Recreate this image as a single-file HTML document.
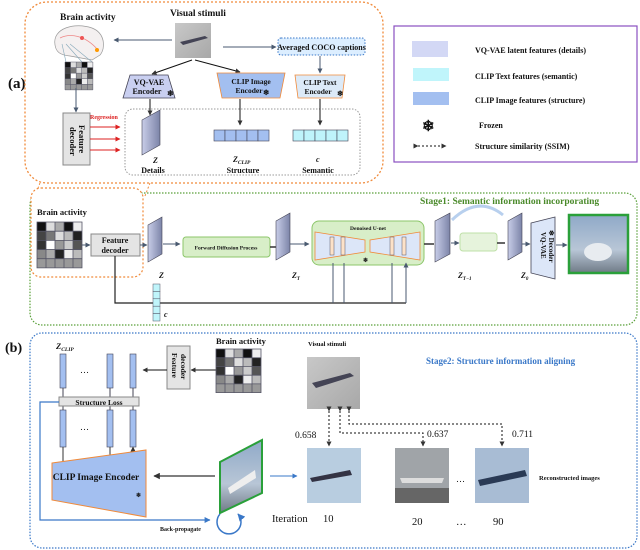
<!DOCTYPE html>
<html><head><meta charset="utf-8"><style>
body{margin:0;background:#fff}
svg{display:block}
text{font-family:"Liberation Serif",serif;font-weight:bold;fill:#111}
.n{font-weight:normal}
</style></head><body>
<svg width="640" height="550" viewBox="0 0 640 550" xmlns="http://www.w3.org/2000/svg">
<defs>
<marker id="a" viewBox="0 0 10 10" refX="9" refY="5" markerWidth="5" markerHeight="5" orient="auto"><path d="M0,0L10,5L0,10z" fill="#333"/></marker>
<marker id="ag" viewBox="0 0 10 10" refX="9" refY="5" markerWidth="5" markerHeight="5" orient="auto"><path d="M0,0L10,5L0,10z" fill="#4a5a70"/></marker>
<marker id="ar" viewBox="0 0 10 10" refX="9" refY="5" markerWidth="5" markerHeight="5" orient="auto"><path d="M0,0L10,5L0,10z" fill="#d22"/></marker>
<marker id="ab" viewBox="0 0 10 10" refX="9" refY="5" markerWidth="5" markerHeight="5" orient="auto"><path d="M0,0L10,5L0,10z" fill="#3a78c8"/></marker>
<linearGradient id="sky" x1="0" y1="0" x2="0" y2="1"><stop offset="0" stop-color="#8fa9c8"/><stop offset="0.6" stop-color="#b8c6d6"/><stop offset="1" stop-color="#6f7a86"/></linearGradient>
<linearGradient id="gray" x1="0" y1="0" x2="1" y2="1"><stop offset="0" stop-color="#c8c8c8"/><stop offset="1" stop-color="#a8a8a8"/></linearGradient>
<linearGradient id="plate" x1="0" y1="0" x2="1" y2="0"><stop offset="0" stop-color="#c8cde8"/><stop offset="1" stop-color="#7c84a8"/></linearGradient>
<g id="grid">
<rect x="0" y="0" width="9" height="9" fill="#111"/><rect x="9" y="0" width="9" height="9" fill="#ddd"/><rect x="18" y="0" width="9" height="9" fill="#aaa"/><rect x="27" y="0" width="9" height="9" fill="#111"/><rect x="36" y="0" width="9" height="9" fill="#eee"/>
<rect x="0" y="9" width="9" height="9" fill="#444"/><rect x="9" y="9" width="9" height="9" fill="#777"/><rect x="18" y="9" width="9" height="9" fill="#ddd"/><rect x="27" y="9" width="9" height="9" fill="#bbb"/><rect x="36" y="9" width="9" height="9" fill="#222"/>
<rect x="0" y="18" width="9" height="9" fill="#333"/><rect x="9" y="18" width="9" height="9" fill="#fff"/><rect x="18" y="18" width="9" height="9" fill="#999"/><rect x="27" y="18" width="9" height="9" fill="#ccc"/><rect x="36" y="18" width="9" height="9" fill="#555"/>
<rect x="0" y="27" width="9" height="9" fill="#888"/><rect x="9" y="27" width="9" height="9" fill="#aaa"/><rect x="18" y="27" width="9" height="9" fill="#222"/><rect x="27" y="27" width="9" height="9" fill="#eee"/><rect x="36" y="27" width="9" height="9" fill="#bbb"/>
<rect x="0" y="36" width="45" height="9" fill="#999"/>
<path d="M0,0H45V45H0zM0,9H45M0,18H45M0,27H45M0,36H45M9,0V45M18,0V45M27,0V45M36,0V45" fill="none" stroke="#556" stroke-width="0.8"/>
</g>
</defs>

<!-- ===== (a) ===== -->
<text x="8" y="88" font-size="15">(a)</text>
<rect x="25" y="2" width="358" height="181" rx="22" fill="none" stroke="#f08a3a" stroke-width="1.3" stroke-dasharray="2,2"/>
<text x="60" y="20" font-size="9.5">Brain activity</text>
<path d="M55,45 C52,28 75,22 92,28 C105,33 106,48 100,55 L92,60 L70,56 C60,55 56,52 55,45z" fill="#f4f0f0" stroke="#999" stroke-width="0.7"/>
<path d="M60,38 C70,33 85,35 98,50" stroke="#e88" fill="none" stroke-width="0.8"/>
<circle cx="82" cy="38" r="2" fill="#e55"/><circle cx="97" cy="50" r="2" fill="#f90"/>
<path d="M62,44 L66,62 M66,44 L82,62 M70,44 L92,62" stroke="#8ab" stroke-width="0.6"/>
<g transform="translate(65,62) scale(0.62)"><use href="#grid"/></g>
<text x="170" y="16" font-size="9.5">Visual stimuli</text>
<rect x="175" y="23" width="36" height="35" fill="url(#gray)"/>
<path d="M180,42 L205,36 L208,38 L183,45z" fill="#445"/>
<line x1="172" y1="40" x2="114" y2="40" stroke="#4a5a70" marker-end="url(#ag)"/>
<line x1="223" y1="47" x2="276" y2="47" stroke="#4a5a70" marker-end="url(#ag)"/>
<rect x="278" y="38" width="87" height="17" rx="3" fill="#dceeff" stroke="#3a78c8" stroke-dasharray="1.5,1.5"/>
<text x="321.5" y="50" font-size="8" text-anchor="middle">Averaged COCO captions</text>
<line x1="320" y1="56" x2="320" y2="73" stroke="#4a5a70" marker-end="url(#ag)"/>
<line x1="192" y1="60" x2="152" y2="74" stroke="#111" marker-end="url(#a)"/>
<line x1="195" y1="60" x2="240" y2="72" stroke="#111" marker-end="url(#a)"/>
<path d="M130,75 H168 L175,98 H123z" fill="#c9cff0" stroke="#445" stroke-width="0.8"/>
<text x="149" y="85" font-size="8" text-anchor="middle">VQ-VAE</text><text x="147" y="94" font-size="8" text-anchor="middle">Encoder</text><text x="167" y="96" font-size="8">❄</text>
<path d="M217,73 H285 L280,98 H222z" fill="#a3bff0" stroke="#f08a3a" stroke-width="0.8"/>
<text x="251" y="84" font-size="7.5" text-anchor="middle">CLIP Image</text><text x="249" y="93" font-size="7.5" text-anchor="middle">Encoder</text><text x="263" y="95" font-size="7.5">❄</text>
<path d="M295,75 H345 L342,98 H298z" fill="#dceaf8" stroke="#f08a3a" stroke-width="0.8"/>
<text x="320" y="85" font-size="7.5" text-anchor="middle">CLIP Text</text><text x="318" y="94" font-size="7.5" text-anchor="middle">Encoder</text><text x="337" y="96" font-size="7.5">❄</text>
<line x1="76" y1="88" x2="76" y2="112" stroke="#4a5a70" marker-end="url(#ag)"/>
<rect x="63" y="113" width="27" height="52" fill="#e4e4e4" stroke="#888"/>
<text transform="translate(79,125) rotate(90)" font-size="8.5">Feature</text><text transform="translate(70,127) rotate(90)" font-size="8.5">decoder</text>
<text x="90" y="119" font-size="6" style="fill:#d22">Regression</text>
<line x1="90" y1="127" x2="120" y2="127" stroke="#d22" marker-end="url(#ar)"/>
<line x1="90" y1="139" x2="120" y2="139" stroke="#d22" marker-end="url(#ar)"/>
<line x1="90" y1="150" x2="120" y2="150" stroke="#d22" marker-end="url(#ar)"/>
<rect x="125" y="109" width="235" height="66" rx="8" fill="none" stroke="#999" stroke-dasharray="1.5,1.5"/>
<line x1="150" y1="99" x2="150" y2="115" stroke="#111" marker-end="url(#a)"/>
<path d="M142,120 L160,110 V145 L142,155z" fill="url(#plate)" stroke="#445" stroke-width="0.6"/>
<text x="153" y="163" font-size="8" font-style="italic">Z</text><text x="153" y="173" font-size="8" text-anchor="middle">Details</text>
<line x1="240" y1="99" x2="240" y2="125" stroke="#111" marker-end="url(#a)"/>
<g fill="#a3bff0" stroke="#445" stroke-width="0.6"><rect x="214" y="130" width="11" height="11"/><rect x="225" y="130" width="11" height="11"/><rect x="236" y="130" width="11" height="11"/><rect x="247" y="130" width="11" height="11"/><rect x="258" y="130" width="11" height="11"/></g>
<text x="233" y="162" font-size="8" font-style="italic">Z<tspan font-size="5.5" dy="2">CLIP</tspan></text><text x="243" y="173" font-size="8" text-anchor="middle">Structure</text>
<line x1="320" y1="99" x2="320" y2="125" stroke="#111" marker-end="url(#a)"/>
<g fill="#bff3fb" stroke="#445" stroke-width="0.6"><rect x="293" y="130" width="11" height="11"/><rect x="304" y="130" width="11" height="11"/><rect x="315" y="130" width="11" height="11"/><rect x="326" y="130" width="11" height="11"/><rect x="337" y="130" width="11" height="11"/></g>
<text x="316" y="162" font-size="8" font-style="italic">c</text><text x="318" y="173" font-size="8" text-anchor="middle">Semantic</text>
<path d="M40,183 L35,196 M150,183 L145,196" stroke="#f08a3a" stroke-dasharray="2,2" fill="none"/>

<!-- legend -->
<rect x="394" y="26" width="243" height="136" fill="#fff" stroke="#8a4fc0" stroke-width="1.2"/>
<rect x="412" y="41" width="36" height="16" fill="#d3d8f5"/>
<text x="475" y="53" font-size="8">VQ-VAE latent features  (details)</text>
<rect x="413" y="68" width="36" height="13" fill="#c0f5fb"/>
<text x="475" y="79" font-size="8">CLIP Text features     (semantic)</text>
<rect x="413" y="92" width="36" height="13" fill="#a3bff0"/>
<text x="475" y="103" font-size="8">CLIP Image features   (structure)</text>
<text x="422" y="131" font-size="15">❄</text>
<text x="479" y="128" font-size="8">Frozen</text>
<line x1="418" y1="146" x2="446" y2="146" stroke="#111" stroke-dasharray="2,2" marker-end="url(#a)" marker-start="url(#a)"/>
<text x="475" y="149" font-size="8">Structure similarity (SSIM)</text>

<!-- ===== Stage 1 ===== -->
<rect x="30" y="193" width="607" height="132" rx="12" fill="none" stroke="#5aa03a" stroke-width="1.2" stroke-dasharray="1.5,1.5"/>
<rect x="31" y="188" width="112" height="89" rx="10" fill="#fff" stroke="#f08a3a" stroke-width="1.2" stroke-dasharray="2,2"/>
<text x="420" y="204" font-size="9.5" style="fill:#4a8a2a">Stage1:  Semantic information incorporating</text>
<text x="37" y="215" font-size="8.5">Brain activity</text>
<g transform="translate(37,222) scale(1,1.02)"><use href="#grid"/></g>
<line x1="82" y1="245" x2="90" y2="245" stroke="#4a5a70" marker-end="url(#ag)"/>
<rect x="91" y="234" width="49" height="22" fill="#e4e4e4" stroke="#888"/>
<text x="115" y="243" font-size="8" text-anchor="middle">Feature</text><text x="115" y="253" font-size="8" text-anchor="middle">decoder</text>
<line x1="140" y1="245" x2="147" y2="245" stroke="#4a5a70" marker-end="url(#ag)"/>
<path d="M148,225 L162,217 V254 L148,262z" fill="url(#plate)" stroke="#445" stroke-width="0.6"/>
<text x="159" y="278" font-size="8" font-style="italic">Z</text>
<line x1="163" y1="244" x2="180" y2="244" stroke="#4a5a70" marker-end="url(#ag)"/>
<rect x="183" y="237" width="87" height="20" rx="3" fill="#d8eec8" stroke="#8cc66a"/>
<text x="226" y="249.5" font-size="5.5" text-anchor="middle">Forward Diffusion Process</text>
<line x1="270" y1="247" x2="276" y2="247" stroke="#333" stroke-width="1.5"/>
<path d="M276,221 L290,213 V252 L276,260z" fill="url(#plate)" stroke="#445" stroke-width="0.6"/>
<text x="292" y="278" font-size="8" font-style="italic">Z<tspan font-size="5" dy="2">T</tspan></text>
<line x1="290" y1="244" x2="309" y2="244" stroke="#4a5a70" marker-end="url(#ag)"/>
<rect x="312" y="221" width="112" height="44" rx="7" fill="#d8eec8" stroke="#8cc66a"/>
<text x="368" y="230" font-size="5.5" text-anchor="middle">Denoised U-net</text>
<path d="M315,232 L365,240 V252 L315,260z" fill="#dce6f8" stroke="#f08a3a" stroke-width="0.8"/>
<path d="M420,232 L370,240 V252 L420,260z" fill="#dce6f8" stroke="#f08a3a" stroke-width="0.8"/>
<g fill="#fde2c8" stroke="#556" stroke-width="0.5"><rect x="330" y="237" width="4" height="18"/><rect x="341" y="237" width="4" height="18"/><rect x="390" y="237" width="4" height="18"/><rect x="402" y="237" width="4" height="18"/></g>
<text x="363" y="262" font-size="6">❄</text>
<line x1="424" y1="244" x2="434" y2="244" stroke="#333" stroke-width="1.5"/>
<path d="M435,221 L450,213 V254 L435,262z" fill="url(#plate)" stroke="#445" stroke-width="0.6"/>
<text x="458" y="278" font-size="8" font-style="italic">Z<tspan font-size="5" dy="2">T−1</tspan></text>
<path d="M452,220 Q478,195 503,215" stroke="#b8d0ee" stroke-width="3" fill="none"/>
<line x1="451" y1="243" x2="459" y2="243" stroke="#4a5a70" marker-end="url(#ag)"/>
<rect x="460" y="233" width="37" height="18" rx="3" fill="#e6f3dc" stroke="#bfe0a8"/>
<line x1="497" y1="243" x2="505" y2="243" stroke="#333" stroke-width="1.5"/>
<path d="M508,221 L522,213 V252 L508,260z" fill="url(#plate)" stroke="#445" stroke-width="0.6"/>
<text x="521" y="278" font-size="8" font-style="italic">Z<tspan font-size="5" dy="2">0</tspan></text>
<line x1="522" y1="244" x2="530" y2="244" stroke="#4a5a70" marker-end="url(#ag)"/>
<path d="M531,223 L555,217 V279 L531,273z" fill="#dce6f8" stroke="#445" stroke-width="0.8"/>
<text transform="translate(541,232) rotate(90)" font-size="7">VQ-VAE</text><text transform="translate(549,230) rotate(90)" font-size="7">❄ Decoder</text>
<line x1="556" y1="245" x2="567" y2="245" stroke="#4a5a70" marker-end="url(#ag)"/>
<rect x="569" y="215" width="59" height="58" fill="url(#sky)" stroke="#2aa03a" stroke-width="2.5"/>
<ellipse cx="598" cy="252" rx="14" ry="9" fill="#e8ecf0"/>
<path d="M115,256 V303 H406" stroke="#222" fill="none" stroke-width="1.2"/>
<path d="M333,303 V263 M344,303 V263 M392,303 V263 M406,303 V263" stroke="#4a5a70" fill="none" marker-end="url(#ag)"/>
<g fill="#c0f5fb" stroke="#556" stroke-width="0.5"><rect x="153" y="284" width="7" height="7.4"/><rect x="153" y="291.4" width="7" height="7.4"/><rect x="153" y="298.8" width="7" height="7.4"/><rect x="153" y="306.2" width="7" height="7.4"/><rect x="153" y="313.6" width="7" height="7.4"/></g>
<text x="164" y="317" font-size="8" font-style="italic">c</text>

<!-- ===== (b) ===== -->
<text x="5" y="352" font-size="14">(b)</text>
<rect x="30" y="333" width="607" height="215" rx="12" fill="none" stroke="#3a78c8" stroke-width="1.2" stroke-dasharray="1.5,1.5"/>
<text x="56" y="349" font-size="8.5" font-style="italic">Z<tspan font-size="5.5" dy="2">CLIP</tspan></text>
<g fill="#a3bff0" stroke="#445" stroke-width="0.6">
<rect x="60" y="354" width="6" height="34"/><rect x="107" y="354" width="6" height="34"/><rect x="130" y="354" width="6" height="34"/>
<rect x="60" y="410" width="6" height="37"/><rect x="107" y="410" width="6" height="37"/><rect x="130" y="410" width="6" height="37"/></g>
<path d="M63,388 V397 M110,388 V397 M133,388 V397 M63,406 V410 M110,406 V410 M133,406 V410" stroke="#445"/>
<text x="80" y="373" font-size="9" class="n">…</text><text x="80" y="430" font-size="9" class="n">…</text>
<rect x="59" y="397" width="80" height="9" fill="#e4e4e4" stroke="#888"/>
<text x="99" y="405" font-size="7.5" text-anchor="middle">Structure  Loss</text>
<path d="M63,462 V447 M110,455 V447 M133,452 V447" stroke="#333" marker-end="url(#a)"/>
<path d="M52,463 L146,450 V517 L52,500z" fill="#a3bff0" stroke="#f08a3a" stroke-width="1"/>
<text x="96" y="480" font-size="9.5" text-anchor="middle">CLIP Image Encoder</text>
<text x="136" y="497" font-size="6">❄</text>
<rect x="167" y="346" width="23" height="43" fill="#e4e4e4" stroke="#888"/>
<text transform="translate(172,353) rotate(90)" font-size="7.5">Feature</text><text transform="translate(181,354) rotate(90)" font-size="7.5">decoder</text>
<line x1="167" y1="370" x2="143" y2="370" stroke="#111" marker-end="url(#a)"/>
<line x1="216" y1="370" x2="191" y2="370" stroke="#111" marker-end="url(#a)"/>
<text x="216" y="344" font-size="8.5">Brain activity</text>
<g transform="translate(216,349) scale(1,0.97)"><use href="#grid"/></g>
<text x="308" y="346" font-size="6.5">Visual stimuli</text>
<rect x="307" y="357" width="53" height="52" fill="url(#gray)"/>
<path d="M312,383 L350,373 L354,376 L316,388z" fill="#445"/>
<text x="426" y="364" font-size="9" style="fill:#3a78c8">Stage2:  Structure information aligning</text>
<g stroke="#111" stroke-dasharray="2,2" fill="none">
<path d="M329,411 V446" marker-end="url(#a)" marker-start="url(#a)"/>
<path d="M340,411 V433 H423 V446" marker-end="url(#a)" marker-start="url(#a)"/>
<path d="M349,411 V424 H502 V446" marker-end="url(#a)" marker-start="url(#a)"/>
</g>
<text x="295" y="438" font-size="9.5" class="n">0.658</text>
<text x="427" y="437" font-size="9.5" class="n">0.637</text>
<text x="512" y="437" font-size="9.5" class="n">0.711</text>
<path d="M220,462 L262,440 V493 L220,513z" fill="url(#sky)" stroke="#2aa03a" stroke-width="2"/>
<path d="M228,488 L255,470 L256,478 L230,494z" fill="#eee"/>
<line x1="215" y1="476" x2="154" y2="476" stroke="#333" stroke-width="1.3" marker-end="url(#a)"/>
<line x1="270" y1="476" x2="297" y2="476" stroke="#3a78c8" marker-end="url(#ab)"/>
<rect x="307" y="448" width="54" height="55" fill="#b8cde0"/>
<path d="M310,478 L350,470 L352,475 L312,482z" fill="#334"/>
<rect x="395" y="448" width="54" height="55" fill="#a0a4a8"/>
<rect x="395" y="488" width="54" height="15" fill="#666"/>
<path d="M400,478 L444,478 L442,483 L402,483z" fill="#ddd"/>
<rect x="475" y="448" width="54" height="55" fill="#a8bcd4"/>
<path d="M478,480 L525,470 L527,476 L480,486z" fill="#2a3a55"/>
<text x="456" y="482" font-size="9" class="n">…</text>
<text x="539" y="480" font-size="6.5">Reconstructed images</text>
<text x="272" y="522" font-size="10.5" class="n">Iteration</text>
<text x="323" y="522" font-size="10.5" class="n">10</text>
<text x="412" y="525" font-size="10.5" class="n">20</text>
<text x="456" y="525" font-size="10.5" class="n">…</text>
<text x="493" y="525" font-size="10.5" class="n">90</text>
<path d="M59,402 H40 V520 H210" stroke="#3a78c8" fill="none" stroke-width="1.2" marker-end="url(#ab)"/>
<path d="M220,514 A12,12 0 1 0 238,514" stroke="#3a78c8" fill="none" stroke-width="1.5" marker-end="url(#ab)"/>
<text x="160" y="531" font-size="6">Back-propagate</text>
</svg>
</body></html>
